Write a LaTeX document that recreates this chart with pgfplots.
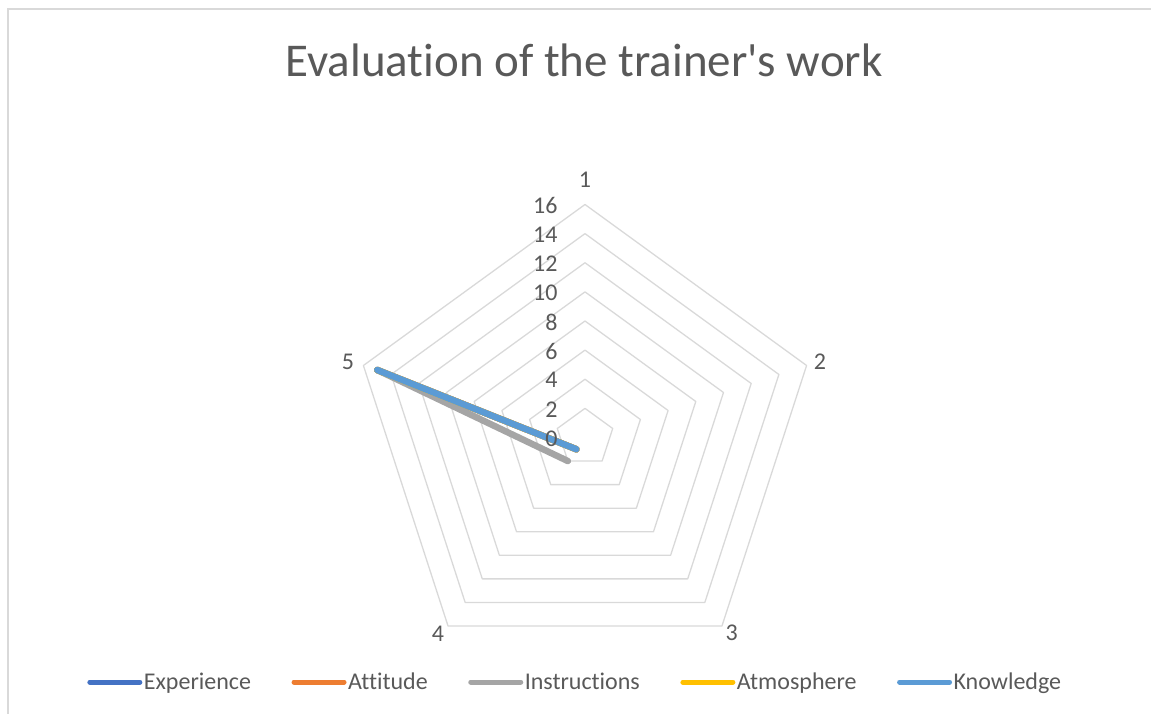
\documentclass[border=0pt]{standalone}
\usepackage{fontspec}
\setmainfont{Carlito}[Ligatures={NoCommon}]
\newfontfamily\titlefont{Carlito}[Ligatures={NoCommon}]
\usepackage{pgfplots}
\pgfplotsset{compat=1.18}
\usepgfplotslibrary{polar}
\definecolor{txtgray}{HTML}{595959}
\definecolor{ringgray}{HTML}{D9D9D9}
\definecolor{cexp}{HTML}{4472C4}
\definecolor{catt}{HTML}{ED7D31}
\definecolor{cins}{HTML}{A5A5A5}
\definecolor{catm}{HTML}{FFC000}
\definecolor{ckno}{HTML}{5B9BD5}
\begin{document}
\begin{tikzpicture}
\path[use as bounding box] (0,0) rectangle (1151pt,714pt);
% chart frame
\draw[ringgray, line width=1.5pt] (8pt,0pt) -- (8pt,705pt) -- (1151pt,705pt);
\node[anchor=base, text=txtgray, font=\titlefont\fontsize{47}{54}\selectfont] at (584pt,637pt) {Evaluation of the trainer's work};
\begin{polaraxis}[
    at={(585pt,276.5pt)}, anchor=center,
    width=466pt, height=466pt, scale only axis,
    ymin=0, ymax=16,
    hide axis,
    clip=false,
    legend columns=5,
    legend style={at={(0.4785,-0.0247)}, anchor=center, draw=none, fill=none,
        font=\fontsize{24}{28}\selectfont, text=txtgray,
        nodes={inner sep=1.5pt},
        /tikz/every even column/.append style={column sep=39pt}},
    legend image code/.code={\draw[#1, line width=5pt, line cap=round] (0pt,0pt) -- (50pt,0pt);},
    every axis plot/.append style={line width=6.5pt, line cap=round, line join=round},
]
% pentagon rings
\pgfplotsinvokeforeach{2,4,6,8,10,12,14,16}{
  \addplot[ringgray, line width=1.3pt, line cap=butt, forget plot]
    coordinates {(90,#1) (18,#1) (-54,#1) (-126,#1) (-198,#1) (90,#1)};
}
% values at categories 4 (234 deg) and 5 (162 deg); categories 1-3 blank
\addplot[cexp] coordinates {(234,1) (162,15)};
\addlegendentry{Experience}
\addplot[catt] coordinates {(234,1) (162,15)};
\addlegendentry{Attitude}
\addplot[cins] coordinates {(234,2) (162,15)};
\addlegendentry{Instructions}
\addplot[catm] coordinates {(234,1) (162,15)};
\addlegendentry{Atmosphere}
\addplot[ckno] coordinates {(234,1) (162,15)};
\addlegendentry{Knowledge}
% radial tick labels
\pgfplotsinvokeforeach{0,2,4,6,8,10,12,14,16}{
  \node[anchor=east, text=txtgray, font=\fontsize{24}{28}\selectfont, xshift=-24pt, yshift=-1pt] at (axis cs:90,#1) {#1};
}
% category labels
\begin{scope}[every node/.style={text=txtgray, font=\fontsize{24}{28}\selectfont}]
\node[xshift=0pt, yshift=24.5pt] at (axis cs:90,16) {1};
\node[xshift=13.4pt, yshift=3.5pt] at (axis cs:18,16) {2};
\node[xshift=9.7pt, yshift=-7pt] at (axis cs:-54,16) {3};
\node[xshift=-10pt, yshift=-8pt] at (axis cs:-126,16) {4};
\node[xshift=-15.4pt, yshift=3.5pt] at (axis cs:-198,16) {5};
\end{scope}
\end{polaraxis}
\end{tikzpicture}
\end{document}
